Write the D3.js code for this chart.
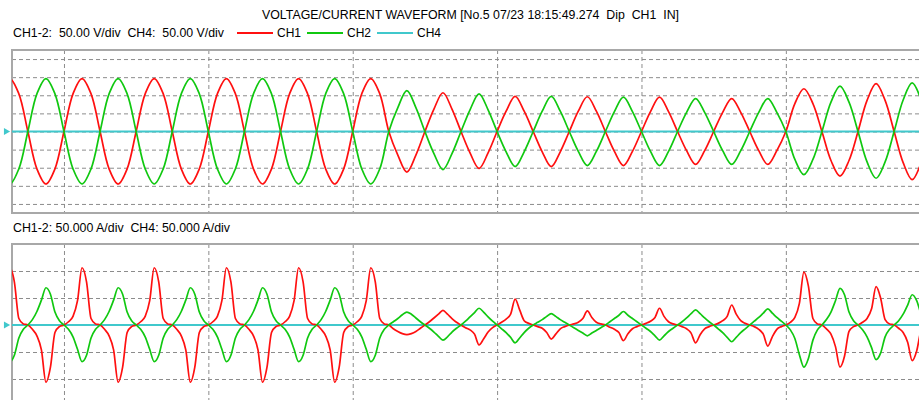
<!DOCTYPE html>
<html>
<head>
<meta charset="utf-8">
<script src="https://cdn.jsdelivr.net/npm/d3@7"></script>
<style>
  body { margin: 0; background: #fff; }
  svg text { font-family: "Liberation Sans", Arial, sans-serif; font-size: 12px; fill: #000; white-space: pre; }
</style>
</head>
<body>
<div id="chart"></div>
<script>
// texts
var title = "VOLTAGE/CURRENT WAVEFORM [No.5 07/23 18:15:49.274  Dip  CH1  IN]"
var voltLabel = "CH1-2:  50.00 V/div  CH4:  50.00 V/div"
var currLabel = "CH1-2: 50.000 A/div  CH4: 50.000 A/div"
var channels = ["CH1", "CH2", "CH4"]

// grid (ms and V / A)
var gridTimes = [0, 40, 80, 120, 160, 200]
var voltTicks = [-200, -150, -100, -50, 0, 50, 100, 150, 200]
var currTicks = [-100, -50, 0, 50, 100]

// voltage record: first sample at -20 ms, one sample every 2.5 ms (V)
var vT0 = -20, vDt = 2.5
var ch1Volt = [
  0, 104, 146, 104,   0, -103, -145, -103,
  0, 104, 146, 104,   0, -103, -145, -103,
  0, 104, 146, 104,   0, -103, -145, -103,
  0, 104, 146, 104,   0, -103, -145, -103,
  0, 104, 146, 104,   0, -103, -145, -103,
  0, 104, 146, 104,
  0, -65, -112, -65,  0, 62, 107, 62,
  0, -59, -102, -59,  0, 56, 97, 56,
  0, -56, -97, -56,   0, 56, 96, 56,
  0, -55, -94, -55,   0, 55, 95, 55,
  0, -53, -91, -53,   0, 53, 91, 53,
  0, -53, -91, -53,
  0, 77, 118, 77,     0, -80, -123, -80,
  0, 86, 132, 86,     0, -86, -133, -86,
  0]
var ch2Volt = [
  0, -103, -145, -103,  0, 104, 146, 104,
  0, -103, -145, -103,  0, 104, 146, 104,
  0, -103, -145, -103,  0, 104, 146, 104,
  0, -103, -145, -103,  0, 104, 146, 104,
  0, -103, -145, -103,  0, 104, 146, 104,
  0, -103, -145, -103,
  0, 66, 113, 66,     0, -61, -105, -61,
  0, 60, 104, 60,     0, -56, -97, -56,
  0, 56, 97, 56,      0, -55, -94, -55,
  0, 55, 95, 55,      0, -55, -94, -55,
  0, 53, 91, 53,      0, -53, -91, -53,
  0, 53, 91, 53,
  0, -77, -119, -77,  0, 81, 125, 81,
  0, -84, -129, -84,  0, 87, 134, 87,
  0]

// current record: first sample at -20 ms, one sample every 1.25 ms (A)
var iT0 = -20, iDt = 1.25
var ch1Curr = [
  0, 6, 16, 45, 106, 80, 12, 2,      0, -8, -20, -46, -106, -78, -14, -3,
  0, 6, 16, 45, 106, 80, 12, 2,      0, -8, -20, -46, -106, -78, -14, -3,
  0, 6, 16, 45, 106, 80, 12, 2,      0, -8, -20, -46, -106, -78, -14, -3,
  0, 6, 16, 45, 106, 80, 12, 2,      0, -8, -20, -46, -106, -78, -14, -3,
  0, 6, 16, 45, 106, 80, 12, 2,      0, -8, -20, -46, -106, -78, -14, -3,
  0, 6, 16, 45, 106, 80, 12, 2,
  0, -7, -12, -16, -18, -16, -12, -6, 0, 6, 13, 20, 27, 20, 12, 5,
  0, -5, -9, -17, -37, -26, -13, -5,  0, 5, 11, 20, 48, 28, 8, 3,
  0, -3, -6, -14, -26, -17, -7, -3,   0, 2, 5, 12, 26, 14, 5, 2,
  0, -4, -8, -14, -29, -16, -7, -3,   0, 3, 7, 14, 31, 16, 6, 2,
  0, -3, -7, -15, -33, -18, -7, -3,   0, 3, 8, 16, 37, 20, 8, 3,
  0, -3, -8, -17, -39, -22, -8, -3,
  0, 5, 14, 40, 98, 72, 12, 2,        0, -7, -17, -40, -78, -58, -12, -3,
  0, 5, 12, 30, 71, 50, 10, 2,        0, -6, -14, -32, -66, -48, -10, -3,
  0]
var ch2Curr = [
  0, -8, -22, -45, -68, -56, -24, -8, 0, 10, 25, 46, 69, 57, 24, 8,
  0, -8, -22, -45, -68, -56, -24, -8, 0, 10, 25, 46, 69, 57, 24, 8,
  0, -8, -22, -45, -68, -56, -24, -8, 0, 10, 25, 46, 69, 57, 24, 8,
  0, -8, -22, -45, -68, -56, -24, -8, 0, 10, 25, 46, 69, 57, 24, 8,
  0, -8, -22, -45, -68, -56, -24, -8, 0, 10, 25, 46, 69, 57, 24, 8,
  0, -8, -22, -45, -68, -56, -24, -8,
  0, 6, 12, 19, 24, 20, 13, 6,        0, -6, -13, -21, -28, -22, -13, -6,
  0, 7, 15, 23, 31, 24, 15, 7,        0, -7, -14, -23, -33, -24, -14, -6,
  0, 5, 10, 16, 21, 16, 10, 5,        0, -5, -10, -15, -20, -15, -10, -5,
  0, 6, 12, 18, 25, 18, 12, 6,        0, -6, -12, -20, -28, -20, -12, -6,
  0, 6, 13, 21, 28, 21, 13, 6,        0, -7, -14, -23, -31, -23, -14, -7,
  0, 7, 14, 22, 30, 22, 14, 7,
  0, -9, -25, -55, -78, -62, -28, -9, 0, 10, 24, 45, 68, 56, 24, 8,
  0, -9, -22, -42, -64, -52, -22, -8, 0, 8, 20, 37, 56, 45, 20, 7,
  0]

// CH4 is not connected: flat at zero over the record
var ch4Times = [-20, 240]
var ch4Volt = [0, 0]
var ch4Curr = [0, 0]

var colors = {CH1: "#ff1010", CH2: "#10c810", CH4: "#40c8cc"}

var width = 919, height = 400
var svg = d3.select("#chart").append("svg")
  .attr("width", width)
  .attr("height", height)

var x = d3.scaleLinear().domain([-14.4, 238]).range([12, 923])
var yV = d3.scaleLinear().domain([-225, 225]).range([213, 50])
var yI = d3.scaleLinear().domain([-150, 150]).range([406, 244])

// header texts (widths as in the instrument screen)
svg.append("text").attr("x", 262).attr("y", 19).attr("textLength", 417).attr("lengthAdjust", "spacingAndGlyphs").text(title)
svg.append("text").attr("x", 13).attr("y", 37).attr("textLength", 211).attr("lengthAdjust", "spacingAndGlyphs").text(voltLabel)
svg.append("text").attr("x", 13).attr("y", 232).attr("textLength", 217).attr("lengthAdjust", "spacingAndGlyphs").text(currLabel)

var legX = [237, 307, 377]
channels.forEach(function(c, i) {
  svg.append("line")
    .attr("x1", legX[i]).attr("x2", legX[i] + 36)
    .attr("y1", 33).attr("y2", 33)
    .attr("stroke", colors[c]).attr("stroke-width", 2)
  svg.append("text").attr("x", legX[i] + 40).attr("y", 37).text(c)
})

function panel(id, yScale, ticks, series, t0, dt, curve, lw) {
  var top = yScale.range()[1], bottom = yScale.range()[0]
  var g = svg.append("g")

  g.append("clipPath").attr("id", id)
    .append("rect")
    .attr("x", 12).attr("y", top)
    .attr("width", 920).attr("height", bottom - top)

  // horizontal grid
  g.append("g")
    .attr("transform", "translate(12,0)")
    .call(d3.axisLeft(yScale).tickValues(ticks).tickSize(-920).tickFormat(""))
    .call(function(a) { a.select(".domain").remove() })
    .selectAll("line")
    .attr("stroke", "#8c8c8c").attr("stroke-dasharray", "4,3")

  // vertical grid
  g.append("g")
    .attr("transform", "translate(0," + top + ")")
    .call(d3.axisBottom(x).tickValues(gridTimes).tickSize(bottom - top).tickFormat(""))
    .call(function(a) { a.select(".domain").remove() })
    .selectAll("line")
    .attr("stroke", "#8c8c8c").attr("stroke-dasharray", "4,3")

  g.append("rect")
    .attr("x", 12).attr("y", top)
    .attr("width", 920).attr("height", bottom - top)
    .attr("fill", "none").attr("stroke", "#a8a8a8").attr("stroke-width", 2)

  var plot = g.append("g").attr("clip-path", "url(#" + id + ")")

  // CH4 baseline
  plot.append("path")
    .datum(series.ch4)
    .attr("fill", "none")
    .attr("stroke", colors.CH4).attr("stroke-width", 2)
    .attr("d", d3.line()
      .x(function(d, i) { return x(ch4Times[i]) })
      .y(function(d) { return yScale(d) }))

  var line = d3.line()
    .x(function(d, i) { return x(t0 + i * dt) })
    .y(function(d) { return yScale(d) })
    .curve(curve)

  ;[["CH1", series.ch1], ["CH2", series.ch2]].forEach(function(s) {
    plot.append("path")
      .datum(s[1])
      .attr("fill", "none")
      .attr("stroke", colors[s[0]])
      .attr("stroke-width", lw)
      .attr("stroke-linejoin", "round")
      .attr("d", line)
  })

  // zero marker on the left
  svg.append("path")
    .attr("d", d3.symbol().type(d3.symbolTriangle).size(22))
    .attr("transform", "translate(6," + yScale(0) + ") rotate(90)")
    .attr("fill", colors.CH4)
}

panel("clipV", yV, voltTicks, {ch1: ch1Volt, ch2: ch2Volt, ch4: ch4Volt}, vT0, vDt, d3.curveCatmullRom, 1.7)
panel("clipI", yI, currTicks, {ch1: ch1Curr, ch2: ch2Curr, ch4: ch4Curr}, iT0, iDt, d3.curveMonotoneX, 1.7)
</script>
</body>
</html>
